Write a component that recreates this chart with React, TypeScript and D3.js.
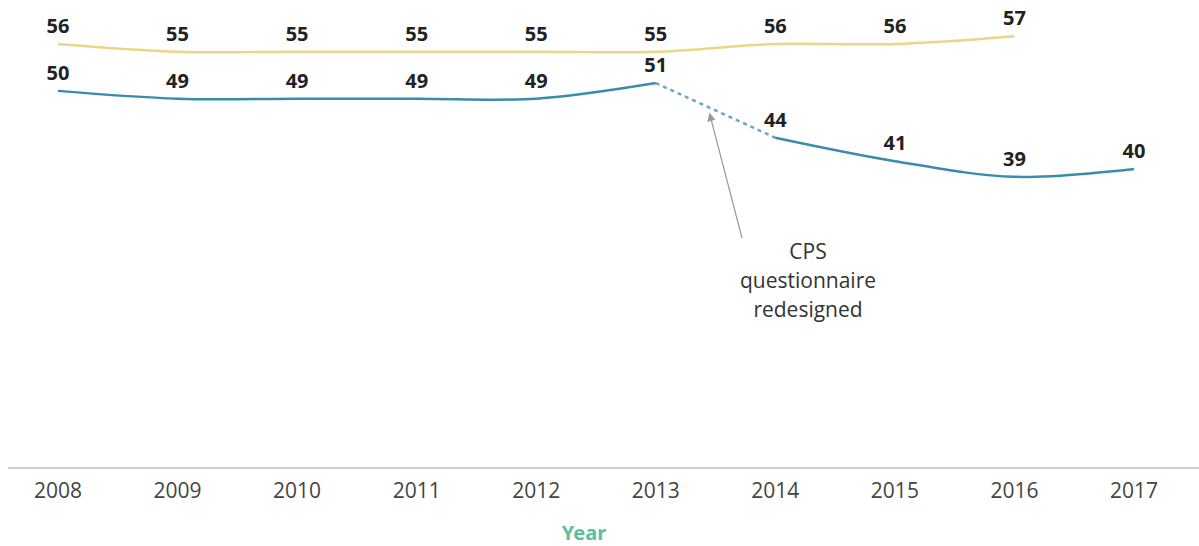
import { scaleLinear, line as d3Line, curveCatmullRom } from "d3";

const years = [2008, 2009, 2010, 2011, 2012, 2013, 2014, 2015, 2016, 2017];
const yellowValues = [56, 55, 55, 55, 55, 55, 56, 56, 57];
const blueBefore = [50, 49, 49, 49, 49, 51];
const blueAfter = [44, 41, 39, 40];
const noteLines = ["CPS", "questionnaire", "redesigned"];
const axisTitle = "Year";

const W = 1199;
const H = 546;
const YELLOW = "#eed486";
const BLUE = "#3a8cad";

export default function App() {
  const x = scaleLinear().domain([0, years.length - 1]).range([58, 1134]);
  const y = scaleLinear().domain([40, 56]).range([169, 44]);

  const line = d3Line<[number, number]>()
    .x((d) => x(d[0]))
    .y((d) => y(d[1]))
    .curve(curveCatmullRom.alpha(0.5));

  const yellowPts: [number, number][] = yellowValues.map((v, i) => [i, v]);
  const bluePts1: [number, number][] = blueBefore.map((v, i) => [i, v]);
  const off = blueBefore.length;
  const bluePts2: [number, number][] = blueAfter.map((v, i) => [i + off, v]);
  const gap: [number, number][] = [bluePts1[bluePts1.length - 1], bluePts2[0]];

  const labelFont = { fontFamily: "'Noto Sans', sans-serif", fontWeight: 700, fontSize: 20, fill: "#222" };

  // arrow end just below the dashed segment
  const ax = x(5.45);
  const ay = y(blueBefore[5] + (blueAfter[0] - blueBefore[5]) * 0.45) + 6;

  return (
    <svg width={W} height={H} style={{ position: "absolute", left: 0, top: 0, background: "#fff" }}>
      <defs>
        <marker id="arr" viewBox="0 0 10 10" refX="9" refY="5" markerWidth="7" markerHeight="7" orient="auto-start-reverse">
          <path d="M0,0 L10,5 L0,10 z" fill="#999" />
        </marker>
      </defs>

      <path d={line(yellowPts)!} fill="none" stroke={YELLOW} strokeWidth={2.5} />
      <path d={line(bluePts1)!} fill="none" stroke={BLUE} strokeWidth={2.5} />
      <path d={line(bluePts2)!} fill="none" stroke={BLUE} strokeWidth={2.5} />
      <path d={d3Line()(gap.map((d) => [x(d[0]), y(d[1])]))!} fill="none" stroke="#6aa6bd" strokeWidth={2.5} strokeDasharray="4 4" />

      {yellowPts.map(([i, v]) => (
        <text key={"y" + i} x={x(i)} y={y(v) - 11} textAnchor="middle" {...labelFont}>{v}</text>
      ))}
      {[...bluePts1, ...bluePts2].map(([i, v]) => (
        <text key={"b" + i} x={x(i)} y={y(v) - 11} textAnchor="middle" {...labelFont}>{v}</text>
      ))}

      <line x1={742} y1={238} x2={ax} y2={ay} stroke="#999" strokeWidth={1.2} markerEnd="url(#arr)" />
      {noteLines.map((t, k) => (
        <text key={t} x={808} y={259 + k * 29} textAnchor="middle" fontFamily="'Open Sans', sans-serif" fontSize={21} fill="#333">{t}</text>
      ))}

      <line x1={8} x2={W} y1={468} y2={468} stroke="#cfcfcf" strokeWidth={2} />
      {years.map((yr, i) => (
        <text key={yr} x={x(i)} y={498} textAnchor="middle" fontFamily="'Open Sans', sans-serif" fontSize={21} fill="#444">{yr}</text>
      ))}
      <text x={584} y={540} textAnchor="middle" fontFamily="'Noto Sans', sans-serif" fontWeight={700} fontSize={20} fill="#5cbf9e">{axisTitle}</text>
    </svg>
  );
}
